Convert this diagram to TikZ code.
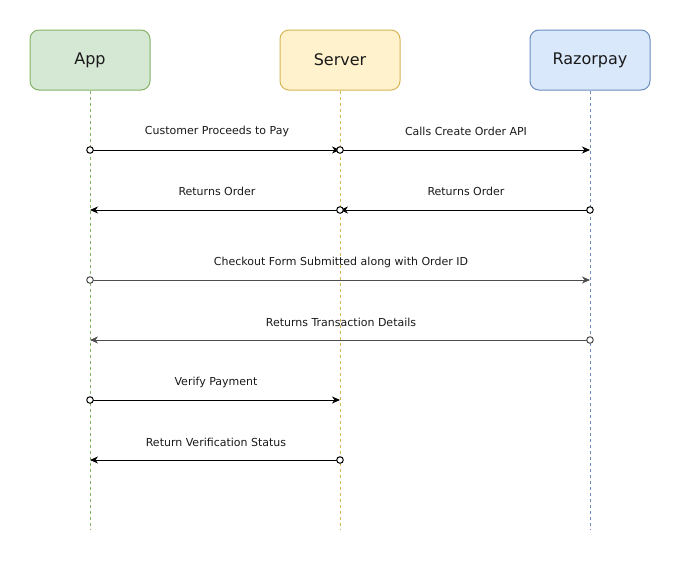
\documentclass[tikz,border=0pt]{standalone}
\usepackage{fontspec}
\setmainfont{DejaVu Sans}
\usetikzlibrary{arrows.meta}
\definecolor{appfill}{HTML}{D5E8D4}\definecolor{appline}{HTML}{82B366}
\definecolor{srvfill}{HTML}{FFF2CC}\definecolor{srvline}{HTML}{D6B656}
\definecolor{rzpfill}{HTML}{DAE8FC}\definecolor{rzpline}{HTML}{6C8EBF}
\definecolor{txt}{HTML}{1A1A1A}\definecolor{grayarrow}{HTML}{4D4D4D}
\begin{document}
\begin{tikzpicture}[x=1pt,y=-1pt,
  actor/.style={draw, rounded corners=9pt, line width=1pt, minimum width=120pt, minimum height=60pt, inner sep=0pt, font=\fontsize{16}{18}\selectfont, text=txt},
  lifeline/.style={line width=1pt, dash pattern=on 3pt off 3pt},
  msg/.style={line width=1pt, -{Stealth[length=8pt,width=7pt,inset=2.5pt]}},
  startdot/.style={circle, draw, fill=white, line width=1pt, minimum size=6.5pt, inner sep=0pt},
  lbl/.style={font=\fontsize{11}{13}\selectfont, text=txt, inner sep=0pt}]
\useasboundingbox (0,0) rectangle (681,562);
\fill[white] (0,0) rectangle (681,562);
% actors
\node[actor, fill=appfill, draw=appline] (app) at (90,60) {App};
\node[actor, fill=srvfill, draw=srvline] (srv) at (340,60) {Server};
\node[actor, fill=rzpfill, draw=rzpline] (rzp) at (590,60) {Razorpay};
% lifeline ends
\coordinate (appE) at (90,530);
\coordinate (srvE) at (340,530);
\coordinate (rzpE) at (590,530);
\draw[lifeline, draw=appline] (app.south) -- (appE);
\draw[lifeline, draw=srvline] (srv.south) -- (srvE);
\draw[lifeline, draw=rzpline] (rzp.south) -- (rzpE);
% message anchor points
\foreach \n/\y in {1/150,2/210,3/280,4/340,5/400,6/460}{
  \coordinate (a\n) at (90,\y);
  \coordinate (s\n) at (340,\y);
  \coordinate (r\n) at (590,\y);
}
% messages
\draw[msg] (a1) -- (s1);
\draw[msg] (s1) -- (r1);
\draw[msg] (s2) -- (a2);
\draw[msg] (r2) -- (s2);
\draw[msg, draw=grayarrow, fill=grayarrow] (a3) -- (r3);
\draw[msg, draw=grayarrow, fill=grayarrow] (r4) -- (a4);
\draw[msg] (a5) -- (s5);
\draw[msg] (s6) -- (a6);
% start markers
\node[startdot] (d1) at (a1) {};
\node[startdot] (d2) at (s1) {};
\node[startdot] (d3) at (s2) {};
\node[startdot] (d4) at (r2) {};
\node[startdot, draw=grayarrow] (d5) at (a3) {};
\node[startdot, draw=grayarrow] (d6) at (r4) {};
\node[startdot] (d7) at (a5) {};
\node[startdot] (d8) at (s6) {};
% labels
\node[lbl] (l1) at (217,131) {Customer Proceeds to Pay};
\node[lbl] (l2) at (466,131) {Calls Create Order API};
\node[lbl] (l3) at (217,191) {Returns Order};
\node[lbl] (l4) at (466,191) {Returns Order};
\node[lbl] (l5) at (341,262) {Checkout Form Submitted along with Order ID};
\node[lbl] (l6) at (341,322) {Returns Transaction Details};
\node[lbl] (l7) at (216,382) {Verify Payment};
\node[lbl] (l8) at (216,442) {Return Verification Status};
\end{tikzpicture}
\end{document}
